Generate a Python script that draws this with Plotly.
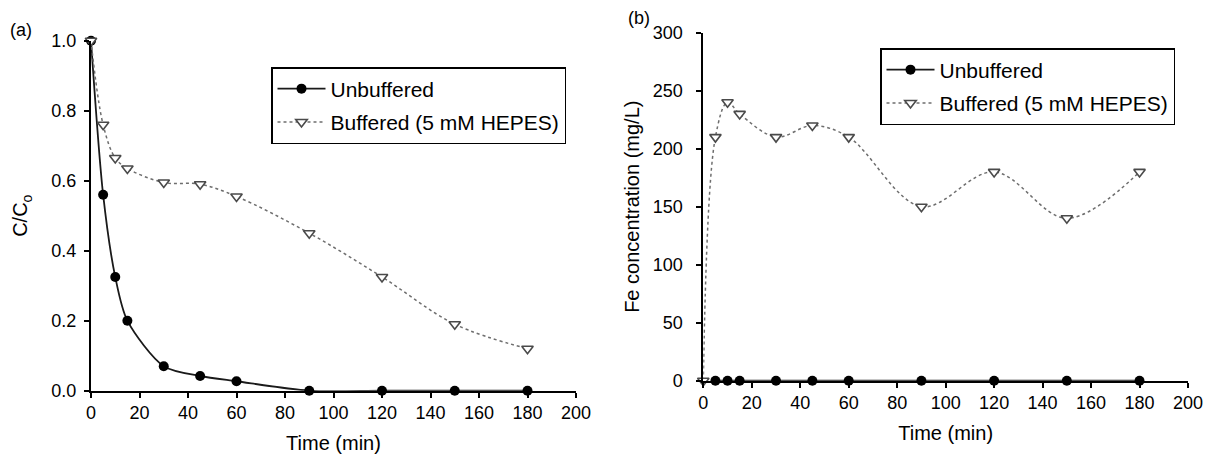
import plotly.graph_objects as go

# Panel (a): C/Co vs time
time_a = [0, 5, 10, 15, 30, 45, 60, 90, 120, 150, 180]
unbuf_a = [1.0, 0.56, 0.325, 0.2, 0.07, 0.042, 0.027, 0.0, 0.0, 0.0, 0.0]
buf_a = [1.0, 0.76, 0.665, 0.635, 0.595, 0.59, 0.555, 0.45, 0.325, 0.19, 0.12]

# Panel (b): Fe concentration vs time
time_b_unbuf = [5, 10, 15, 30, 45, 60, 90, 120, 150, 180]
unbuf_b = [0, 0, 0, 0, 0, 0, 0, 0, 0, 0]
time_b_buf = [0, 5, 10, 15, 30, 45, 60, 90, 120, 150, 180]
buf_b = [0, 210, 240, 230, 210, 220, 210, 150, 180, 140, 180]

x_ticks = list(range(0, 201, 20))
ya_ticks = [0.0, 0.2, 0.4, 0.6, 0.8, 1.0]
yb_ticks = [0, 50, 100, 150, 200, 250, 300]

FONT = "Liberation Sans, Arial, sans-serif"

W, H = 1207, 454


def px(x):
    return x / W


def py(y):
    return (H - y) / H


unbuf_line = dict(color="#1a1a1a", width=1.8, shape="spline", smoothing=0.8)
unbuf_marker = dict(symbol="circle", size=10, color="black")
buf_line = dict(color="#6e6e6e", width=1.5, dash="dot", shape="spline", smoothing=1.0)
buf_marker = dict(symbol="triangle-down", size=10, color="white",
                  line=dict(color="#4a4a4a", width=1.6))

fig = go.Figure()
fig.add_trace(go.Scatter(x=time_a, y=unbuf_a, mode="lines+markers", name="Unbuffered",
                         line=unbuf_line, marker=unbuf_marker, xaxis="x", yaxis="y",
                         legend="legend", legendgroup="a1", cliponaxis=False))
fig.add_trace(go.Scatter(x=time_a, y=buf_a, mode="lines+markers", name="Buffered (5 mM HEPES)",
                         line=buf_line, marker=buf_marker, xaxis="x", yaxis="y",
                         legend="legend", legendgroup="a2", cliponaxis=False))
fig.add_trace(go.Scatter(x=time_b_unbuf, y=unbuf_b, mode="lines+markers", name="Unbuffered",
                         line=unbuf_line, marker=unbuf_marker, xaxis="x2", yaxis="y2",
                         legend="legend2", legendgroup="b1", cliponaxis=False))
fig.add_trace(go.Scatter(x=time_b_buf, y=buf_b, mode="lines+markers", name="Buffered (5 mM HEPES)",
                         line=buf_line, marker=buf_marker, xaxis="x2", yaxis="y2",
                         legend="legend2", legendgroup="b2", cliponaxis=False))

axis_common = dict(showline=True, linecolor="black", linewidth=2, ticks="outside",
                   ticklen=5, tickwidth=2, tickcolor="black", showgrid=False, zeroline=False,
                   tickfont=dict(family=FONT, size=18, color="black"), automargin=False,
                   mirror=False)
title_font = dict(family=FONT, size=20, color="black")
legend_common = dict(xanchor="left", yanchor="top", bordercolor="black", borderwidth=1.5,
                     bgcolor="white", font=dict(family=FONT, size=21), tracegroupgap=3,
                     itemwidth=48)

fig.update_layout(
    width=W, height=H,
    margin=dict(l=0, r=0, t=0, b=0),
    paper_bgcolor="white", plot_bgcolor="white",
    font=dict(family=FONT, size=18, color="black"),
    xaxis=dict(domain=[px(91), px(576)], range=[0, 200], tickvals=x_ticks, anchor="y",
               title=dict(text="Time (min)", font=title_font, standoff=16), **axis_common),
    yaxis=dict(domain=[py(390.7), py(40.7)], range=[0, 1.0], tickvals=ya_ticks,
               tickformat=".1f", anchor="x", ticklabelstandoff=4,
               title=dict(text="C/C<sub>o</sub>", font=title_font, standoff=18), **axis_common),
    xaxis2=dict(domain=[px(703.3), px(1188)], range=[0, 200], tickvals=x_ticks, anchor="y2",
                title=dict(text="Time (min)", font=title_font, standoff=14), **axis_common),
    yaxis2=dict(domain=[py(380.7), py(32.7)], range=[0, 300], tickvals=yb_ticks,
                anchor="x2", ticklabelstandoff=10,
                title=dict(text="Fe concentration (mg/L)", font=title_font, standoff=8),
                **axis_common),
    legend=dict(x=px(271), y=py(67), **legend_common),
    legend2=dict(x=px(880), y=py(48), **legend_common),
    showlegend=True,
    annotations=[
        dict(text="(a)", x=px(8), y=py(30), xref="paper", yref="paper",
             xanchor="left", yanchor="middle", showarrow=False, font=dict(size=18)),
        dict(text="(b)", x=px(626), y=py(18), xref="paper", yref="paper",
             xanchor="left", yanchor="middle", showarrow=False, font=dict(size=18)),
    ],
)

# remove the browser's default 8px body margin so the figure fills the window exactly
fig.write_html("out.html",
               config={"displayModeBar": False},
               post_script="document.body.style.margin='0';document.body.style.overflow='hidden';")
